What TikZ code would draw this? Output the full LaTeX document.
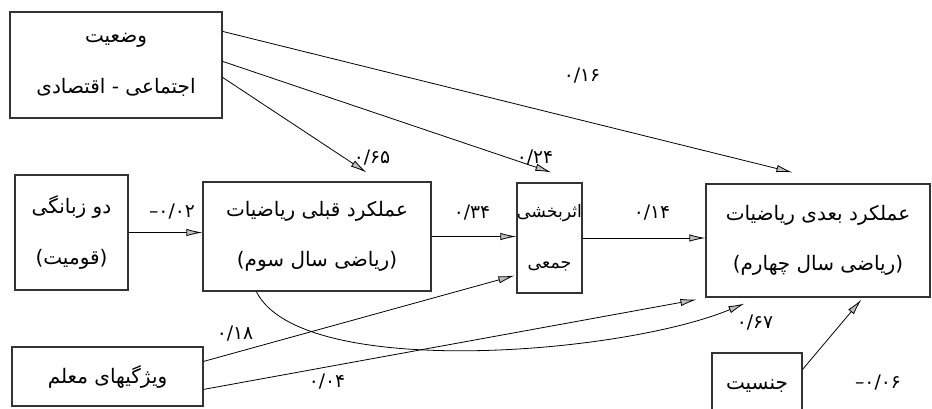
\documentclass[tikz,border=0pt]{standalone}
\usepackage{fontspec}
\usetikzlibrary{arrows.meta,calc}
\TeXXeTstate=1
\newfontfamily\fafont[Script=Arabic]{DejaVu Sans}
\newcommand\fa[1]{{\fafont\beginR #1\endR}}
\newcommand\negcoef[1]{\hbox{–}\hbox{#1}}
\tikzset{
  varbox/.style={draw=black!80, line width=0.9pt, inner sep=0pt, align=center,
    font=\fafont\fontsize{15}{38}\selectfont},
  coef/.style={font=\fafont\fontsize{14}{16}\selectfont, inner sep=1pt},
  path/.style={draw=black, line width=0.6pt,
    -{Latex[length=12pt,width=5.5pt,fill=gray!50]}}
}
\begin{document}
\begin{tikzpicture}[x=0.75pt,y=-0.75pt]
\useasboundingbox (0,0) rectangle (932,408);

% variables
\node[varbox, minimum width=159pt, minimum height=79.5pt] (ses) at (116,65)
  {\fa{وضعیت}\\ \fa{اجتماعی - اقتصادی}};
\node[varbox, minimum width=84.75pt, minimum height=86.25pt] (bil) at (71.5,232.5)
  {\fa{دو زبانگی}\\ \fa{(قومیت)}};
\node[varbox, minimum width=171pt, minimum height=81.75pt] (prior) at (317,236.5)
  {\fa{عملکرد قبلی ریاضیات}\\ \fa{(ریاضی سال سوم)}};
\node[varbox, minimum width=48.75pt, minimum height=82.5pt,
      font=\fafont\fontsize{13}{38}\selectfont] (coll) at (549.5,238)
  {\fa{اثربخشی}\\ \fa{جمعی}};
\node[varbox, minimum width=168pt, minimum height=84.75pt] (later) at (818,240.5)
  {\fa{عملکرد بعدی ریاضیات}\\ \fa{(ریاضی سال چهارم)}};
\node[varbox, minimum width=143.25pt, minimum height=44.25pt] (teach) at (107.5,376.5)
  {\fa{ویژگیهای معلم}};
\node[varbox, minimum width=67.5pt, minimum height=50.25pt] (gender) at (757,386.5)
  {\fa{جنسیت}};

% paths
\draw[path] ($(ses.north east)+(0,20)$) -- ($(later.north west)+(87,-11)$);
\draw[path] ($(ses.north east)+(0,50)$) -- ($(coll.north west)+(35,-10)$);
\draw[path] ($(ses.north east)+(0,66)$) -- ($(prior.north west)+(164,-9)$);
\draw[path] (bil.east) -- (bil.east -| prior.west);
\draw[path] (prior.east) -- (prior.east -| coll.west);
\draw[path] (coll.east) -- (coll.east -| later.west);
\draw[path] ($(teach.north east)+(0,15)$) -- ($(coll.south west)+(-2,-18)$);
\draw[path] ($(teach.north east)+(0,43)$) -- ($(later.south west)+(-9,2)$);
\draw[path] ($(prior.south west)+(54,0)$) .. controls (300,380) and (620,355) .. ($(later.south west)+(39,6)$);
\draw[path] ($(gender.north east)+(0,17)$) -- ($(later.south west)+(156,2)$);

% coefficients
\node[coef] (l16) at (582,76) {۰/۱۶};
\node[coef] (l24) at (535,158) {۰/۲۴};
\node[coef] (l65) at (372,158) {۰/۶۵};
\node[coef] (l02) at (172,212) {\negcoef{۰/۰۲}};
\node[coef] (l34) at (472,213) {۰/۳۴};
\node[coef] (l14) at (652,213) {۰/۱۴};
\node[coef] (l18) at (235,334) {۰/۱۸};
\node[coef] (l04) at (327,382) {۰/۰۴};
\node[coef] (l67) at (755,323) {۰/۶۷};
\node[coef] (l06) at (878,383) {\negcoef{۰/۰۶}};
\end{tikzpicture}
\end{document}
